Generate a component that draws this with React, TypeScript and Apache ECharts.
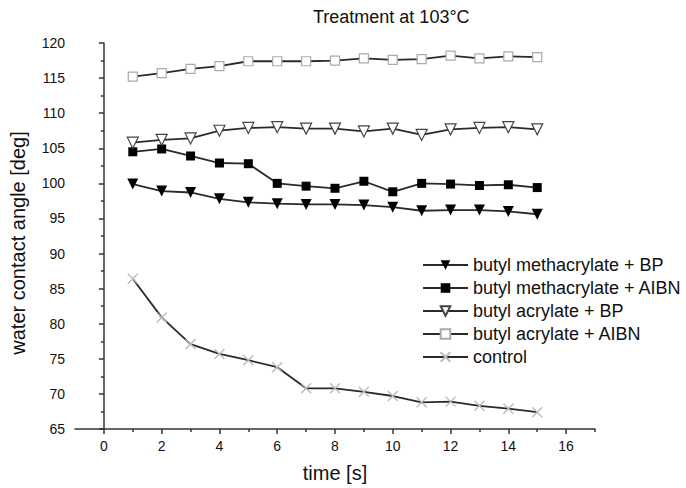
import React, { useEffect, useRef } from "react";
import * as echarts from "echarts";

const times = [1, 2, 3, 4, 5, 6, 7, 8, 9, 10, 11, 12, 13, 14, 15];
const bmaBP = [99.9, 98.9, 98.7, 97.8, 97.3, 97.1, 97.0, 97.0, 96.9, 96.6, 96.1, 96.2, 96.2, 96.0, 95.6];
const bmaAIBN = [104.5, 104.9, 103.9, 102.9, 102.8, 100.0, 99.6, 99.3, 100.3, 98.8, 100.0, 99.9, 99.7, 99.8, 99.4];
const baBP = [105.8, 106.2, 106.4, 107.5, 107.9, 108.0, 107.8, 107.8, 107.4, 107.8, 106.9, 107.7, 107.9, 108.0, 107.7];
const baAIBN = [115.2, 115.7, 116.3, 116.7, 117.4, 117.4, 117.4, 117.5, 117.8, 117.6, 117.7, 118.2, 117.8, 118.1, 118.0];
const control = [86.4, 80.9, 77.1, 75.7, 74.8, 73.8, 70.8, 70.8, 70.3, 69.7, 68.8, 68.9, 68.3, 67.9, 67.4];

const seriesNames = [
  "butyl methacrylate + BP",
  "butyl methacrylate + AIBN",
  "butyl acrylate + BP",
  "butyl acrylate + AIBN",
  "control",
];
const majorXTicks = [0, 2, 4, 6, 8, 10, 12, 14, 16];
const minorXTicks = [1, 3, 5, 7, 9, 11, 13, 15, 17];

const FONT = "'Liberation Sans', Arial, sans-serif";
const LINE = "#2a2a2a";

function pairs(vals: number[]) {
  return times.map((t, i) => [t, vals[i]]);
}

export default function App() {
  const ref = useRef<HTMLDivElement>(null);
  useEffect(() => {
    if (!ref.current) return;
    const chart = echarts.init(ref.current, undefined, { renderer: "svg" });
    const lineStyle = { color: LINE, width: 1.8 };
    chart.setOption({
      animation: false,
      backgroundColor: "#fff",
      title: {
        text: "Treatment at 103°C",
        left: 308,
        top: 3,
        textStyle: { fontFamily: FONT, fontSize: 18, fontWeight: "normal", color: "#111" },
      },
      legend: {
        left: 417,
        top: 250,
        orient: "vertical",
        itemWidth: 45,
        itemHeight: 12,
        itemGap: 3,
        data: seriesNames,
        textStyle: { fontFamily: FONT, fontSize: 18, color: "#111", lineHeight: 20 },
      },
      grid: { left: 73, right: 91, top: 43, bottom: 58, containLabel: false },
      xAxis: [
        {
          type: "value",
          min: -1,
          max: 17,
          name: "time [s]",
          nameLocation: "middle",
          nameGap: 34,
          nameTextStyle: { fontFamily: FONT, fontSize: 20, color: "#111" },
          axisLine: { show: true, lineStyle: { color: "#333", width: 1.5 } },
          axisTick: { show: true, length: 5, customValues: majorXTicks, lineStyle: { color: "#333", width: 1.5 } },
          axisLabel: { customValues: majorXTicks, margin: 10, fontFamily: FONT, fontSize: 14, color: "#111" },
          splitLine: { show: false },
        },
        {
          type: "value",
          min: -1,
          max: 17,
          position: "bottom",
          offset: 0,
          axisLine: { show: false },
          axisTick: { show: true, length: 3, customValues: minorXTicks, lineStyle: { color: "#333", width: 1.5 } },
          axisLabel: { show: false },
          splitLine: { show: false },
        },
      ],
      yAxis: {
        type: "value",
        min: 65,
        max: 120,
        interval: 5,
        name: "water contact angle [deg]",
        nameLocation: "middle",
        nameGap: 47,
        nameTextStyle: { fontFamily: FONT, fontSize: 20, color: "#111", padding: [0, 14, 0, 0] },
        axisLine: { show: true, lineStyle: { color: "#333", width: 1.5 } },
        axisTick: { show: true, length: 5, lineStyle: { color: "#333", width: 1.5 } },
        minorTick: { show: true, splitNumber: 2, length: 3, lineStyle: { color: "#333", width: 1.5 } },
        axisLabel: { margin: 10, fontFamily: FONT, fontSize: 14, color: "#111" },
        splitLine: { show: false },
      },
      series: [
        {
          name: seriesNames[0],
          type: "line",
          data: pairs(bmaBP),
          symbol: "triangle",
          symbolRotate: 180,
          symbolSize: 11,
          lineStyle,
          itemStyle: { color: "#000", borderColor: "#000", borderWidth: 0 },
        },
        {
          name: seriesNames[1],
          type: "line",
          data: pairs(bmaAIBN),
          symbol: "rect",
          symbolSize: 9,
          lineStyle,
          itemStyle: { color: "#000", borderColor: "#000", borderWidth: 0 },
        },
        {
          name: seriesNames[2],
          type: "line",
          data: pairs(baBP),
          symbol: "triangle",
          symbolRotate: 180,
          symbolSize: 11,
          lineStyle,
          itemStyle: { color: "#fff", borderColor: "#444", borderWidth: 1.2 },
        },
        {
          name: seriesNames[3],
          type: "line",
          data: pairs(baAIBN),
          symbol: "rect",
          symbolSize: 9,
          lineStyle,
          itemStyle: { color: "#fff", borderColor: "#aaa", borderWidth: 1.2 },
        },
        {
          name: seriesNames[4],
          type: "line",
          data: pairs(control),
          symbol: "path://M0,0L10,10M10,0L0,10",
          symbolSize: 10,
          lineStyle,
          itemStyle: { color: "transparent", borderColor: "#bbb", borderWidth: 1.4 },
        },
      ],
    });
    return () => chart.dispose();
  }, []);
  return (
    <div
      ref={ref}
      style={{ position: "fixed", left: 0, top: 0, width: 686, height: 488, background: "#fff" }}
    />
  );
}
